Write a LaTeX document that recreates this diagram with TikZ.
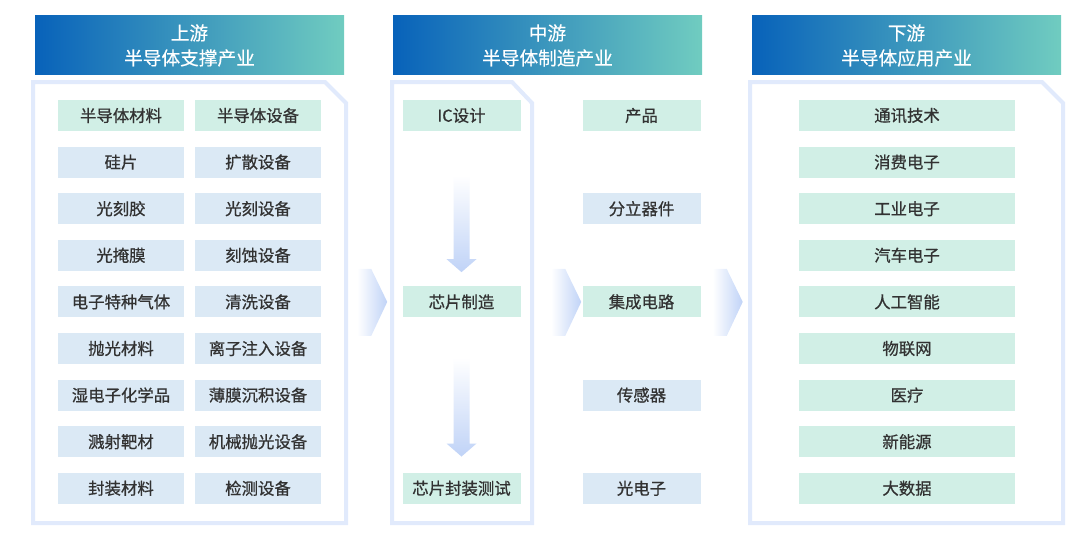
\documentclass[tikz,border=0pt]{standalone}
\usepackage{fontspec}
\setmainfont{Noto Sans CJK SC}
\newfontfamily\cellfont{Noto Sans CJK SC}[FakeBold=0.7]
\newfontfamily\headfont{Noto Sans CJK SC}[FakeBold=0.4]
\usetikzlibrary{calc}

\definecolor{mint}{RGB}{209,239,230}
\definecolor{pale}{RGB}{219,233,245}
\definecolor{ink}{RGB}{50,50,50}
\definecolor{hdleft}{RGB}{8,98,186}
\definecolor{hdmid}{RGB}{45,140,200}
\definecolor{hdright}{RGB}{112,204,192}
\definecolor{rim}{RGB}{225,234,252}
\definecolor{flow}{RGB}{192,211,247}

\tikzset{
  cell/.style={minimum height=23.25pt, inner sep=0pt, text=ink, font=\cellfont\fontsize{12.3}{14}\selectfont},
  mintcell/.style={cell, fill=mint},
  palecell/.style={cell, fill=pale},
  upcell/.style={minimum width=94.5pt},
  midcell/.style={minimum width=88.5pt},
  downcell/.style={minimum width=162pt},
  header/.style={minimum width=231.75pt, minimum height=44.25pt, inner sep=0pt, align=center,
    text=white, font=\headfont\fontsize{14}{18.75}\selectfont,
    left color=hdleft, middle color=hdmid, right color=hdright},
  panel/.style={draw=rim, line width=3pt, fill=white, line join=miter},
  flowdown/.style={top color=white, bottom color=flow},
  flowright/.style={left color=white, right color=flow}
}

\begin{document}
\begin{tikzpicture}[x=0.75pt,y=0.75pt,yscale=-1,xscale=1]
\useasboundingbox (0,0) rectangle (1080,535);

% Panels
\draw[panel] (33,82) -- (325,82) -- (346,103) -- (346,523) -- (33,523) -- cycle;
\draw[panel] (392,82) -- (512,82) -- (532,103) -- (532,523) -- (392,523) -- cycle;
\draw[panel] (750,82) -- (1042,82) -- (1063,103) -- (1063,523) -- (750,523) -- cycle;

% Headers
\node[header] (uphd) at (189.5,45.5) {上游\\半导体支撑产业};
\node[header] (midhd) at (547.5,45.5) {中游\\半导体制造产业};
\node[header] (dnhd) at (906.5,45.5) {下游\\半导体应用产业};

% Upstream cells
\node[mintcell, upcell] (mat1) at (121,115.5) {半导体材料};
\node[mintcell, upcell] (eqp1) at (258,115.5) {半导体设备};
\foreach \t [count=\i from 2] in {硅片,光刻胶,光掩膜,电子特种气体,抛光材料,湿电子化学品,溅射靶材,封装材料}
  \node[palecell, upcell] (mat\i) at (121,{115.5+46.6*(\i-1)}) {\t};
\foreach \t [count=\i from 2] in {扩散设备,光刻设备,刻蚀设备,清洗设备,离子注入设备,薄膜沉积设备,机械抛光设备,检测设备}
  \node[palecell, upcell] (eqp\i) at (258,{115.5+46.6*(\i-1)}) {\t};

% Midstream cells
\node[mintcell, midcell] (icd) at (461.5,115.5) {IC设计};
\node[mintcell, midcell] (fab) at (461.5,301.9) {芯片制造};
\node[mintcell, midcell] (pkg) at (461.5,488.3) {芯片封装测试};
\node[mintcell, midcell] (prod) at (641.5,115.5) {产品};
\node[palecell, midcell] (disc) at (641.5,208.7) {分立器件};
\node[mintcell, midcell] (ic) at (641.5,301.9) {集成电路};
\node[palecell, midcell] (sens) at (641.5,395.1) {传感器};
\node[palecell, midcell] (opto) at (641.5,488.3) {光电子};

% Downstream cells
\foreach \t [count=\i] in {通讯技术,消费电子,工业电子,汽车电子,人工智能,物联网,医疗,新能源,大数据}
  \node[mintcell, downcell] (app\i) at (907,{115.5+46.6*(\i-1)}) {\t};

% Down arrows
\coordinate (d1a) at ($(icd.south)+(0,44)$);
\coordinate (d1b) at ($(fab.north)+(0,-14)$);
\shade[flowdown] ($(d1a)+(-8,0)$) -- ($(d1b)+(-8,-13)$) -- ($(d1b)+(-15,-13)$) -- (d1b)
  -- ($(d1b)+(15,-13)$) -- ($(d1b)+(8,-13)$) -- ($(d1a)+(8,0)$) -- cycle;
\coordinate (d2a) at ($(fab.south)+(0,40)$);
\coordinate (d2b) at ($(pkg.north)+(0,-16)$);
\shade[flowdown] ($(d2a)+(-8,0)$) -- ($(d2b)+(-8,-13)$) -- ($(d2b)+(-15,-13)$) -- (d2b)
  -- ($(d2b)+(15,-13)$) -- ($(d2b)+(8,-13)$) -- ($(d2a)+(8,0)$) -- cycle;

% Right chevrons
\coordinate (r1) at ($(fab.west)+(-15,0)$);
\coordinate (r2) at ($(ic.west)+(-1,0)$);
\coordinate (r3) at ($(app5.west)+(-56,0)$);
\foreach \r in {r1,r2,r3}
  \shade[flowright] ($(\r)+(-30,-33)$) -- ($(\r)+(-16,-33)$) -- (\r) -- ($(\r)+(-16,34)$) -- ($(\r)+(-30,34)$) -- cycle;

\end{tikzpicture}
\end{document}
